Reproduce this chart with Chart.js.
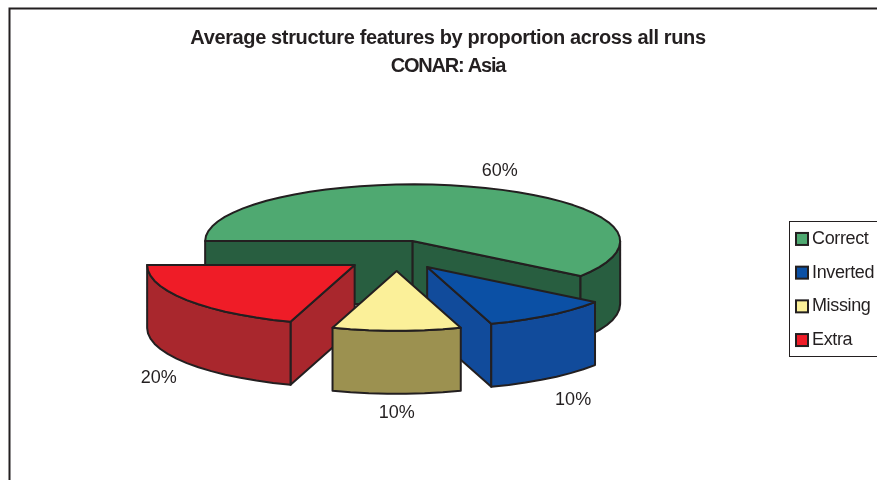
<!DOCTYPE html>
<html>
<head>
<meta charset="utf-8">
<style>
body { margin: 0; background: #fff; }
canvas { display: block; }
</style>
<script src="https://cdn.jsdelivr.net/npm/chart.js@4/dist/chart.umd.min.js"></script>
</head>
<body>
<canvas id="myChart" width="877" height="480"></canvas>
<script>
const categories = ["Correct", "Inverted", "Missing", "Extra"];
const proportions = [60, 10, 10, 20];
const titleLines = ["Average structure features by proportion across all runs", "CONAR: Asia"];

const topColors = ["#4fa971", "#0b50a5", "#fbf099", "#ef1c27"];
const wallColors = ["#285e40", "#114b9b", "#9c9150", "#a9272d"];
const inkColor = "#231f20";

// the look of the 3d pie, library only knows a flat one
const flattenBack = 0.299;
const flattenFront = 0.315;
const stretch = 1.095;
const depth = 63;
const pieShift = [14, -48.5];
const explode = [[0, 0], [14.5, 26], [-16, 30], [-58, 24]];
const labelNudge = [[23, -16], [24, 22], [0, 19], [-28, 15]];
const facetStep = Math.PI / 36;

// point on the rim, the front half is a bit deeper than the back
function rim(a, i, ang, down) {
    const flatten = Math.sin(ang) > 0 ? flattenFront : flattenBack;
    return [
        a.x + pieShift[0] + explode[i][0] + a.outerRadius * stretch * Math.cos(ang),
        a.y + pieShift[1] + explode[i][1] + a.outerRadius * flatten * Math.sin(ang) + down
    ];
}

function rimPath(ctx, a, i, from, to, down) {
    const n = Math.max(1, Math.round(Math.abs(to - from) / facetStep));
    for (let k = 0; k <= n; k++) {
        const p = rim(a, i, from + (to - from) * k / n, down);
        ctx.lineTo(p[0], p[1]);
    }
}

function drawFace(ctx, path, fill) {
    ctx.beginPath();
    path();
    ctx.closePath();
    ctx.fillStyle = fill;
    ctx.fill();
    ctx.stroke();
}

const pie3d = {
    id: "pie3d",
    beforeDraw(chart) {
        chart.ctx.letterSpacing = "-0.37px";
    },
    beforeDatasetsDraw(chart) {
        const ctx = chart.ctx;
        const arcs = chart.getDatasetMeta(0).data;
        // back slices first
        let order = arcs.map((a, i) => i);
        const mid = (a) => (a.startAngle + a.endAngle) / 2;
        order.sort((p, q) => Math.sin(mid(arcs[p])) - Math.sin(mid(arcs[q])));

        ctx.save();
        ctx.strokeStyle = inkColor;
        ctx.lineWidth = 2;
        ctx.lineJoin = "round";
        order.forEach((i) => {
            const a = arcs[i];
            const cx = a.x + pieShift[0] + explode[i][0];
            const cy = a.y + pieShift[1] + explode[i][1];

            const cutFace = (ang) => {
                const e = rim(a, i, ang, 0);
                drawFace(ctx, () => {
                    ctx.moveTo(cx, cy);
                    ctx.lineTo(e[0], e[1]);
                    ctx.lineTo(e[0], e[1] + depth);
                    ctx.lineTo(cx, cy + depth);
                }, wallColors[i]);
            };
            // only the cut faces turned to us
            if (Math.cos(a.startAngle) < 0) cutFace(a.startAngle);
            if (Math.cos(a.endAngle) > 0) cutFace(a.endAngle);

            // outer wall, only the part that faces us (0..PI on canvas)
            for (let turn = 0; turn < 2; turn++) {
                const from = Math.max(a.startAngle, turn * Math.PI * 2);
                const to = Math.min(a.endAngle, turn * Math.PI * 2 + Math.PI);
                if (to > from) {
                    drawFace(ctx, () => {
                        rimPath(ctx, a, i, from, to, 0);
                        rimPath(ctx, a, i, to, from, depth);
                    }, wallColors[i]);
                }
            }

            // top
            drawFace(ctx, () => {
                ctx.moveTo(cx, cy);
                rimPath(ctx, a, i, a.startAngle, a.endAngle, 0);
            }, topColors[i]);
        });

        // percent labels
        const total = proportions.reduce((s, v) => s + v, 0);
        ctx.fillStyle = inkColor;
        ctx.font = "18px 'Liberation Sans'";
        ctx.letterSpacing = "0px";
        ctx.textAlign = "center";
        ctx.textBaseline = "middle";
        arcs.forEach((a, i) => {
            const ang = mid(a);
            const p = rim(a, i, ang, Math.sin(ang) > 0 ? depth : 0);
            ctx.fillText(Math.round(proportions[i] / total * 100) + "%", p[0] + labelNudge[i][0], p[1] + labelNudge[i][1]);
        });
        ctx.restore();
        return false;
    },
    afterDraw(chart) {
        const ctx = chart.ctx;
        const boxes = chart.legend.legendHitBoxes;
        const tb = chart.titleBlock;
        ctx.save();
        // second title line is set much tighter than the first one
        ctx.fillStyle = inkColor;
        ctx.font = "bold 20px 'Liberation Sans'";
        ctx.letterSpacing = "-1.2px";
        ctx.textAlign = "center";
        ctx.textBaseline = "middle";
        ctx.fillText(titleLines[1], (tb.left + tb.right) / 2, tb.top + 24 + 28 + 14);
        ctx.letterSpacing = "0px";

        ctx.strokeStyle = inkColor;
        // outer frame runs off the page on the right and bottom
        ctx.lineWidth = 2;
        ctx.strokeRect(9.5, 8.5, 900, 500);
        // legend frame, around the items only
        const last = boxes[boxes.length - 1];
        const frameTop = Math.round(boxes[0].top - 9) + 0.5;
        const frameBottom = Math.round(last.top + last.height + 7) + 0.5;
        ctx.lineWidth = 1;
        ctx.strokeRect(Math.round(boxes[0].left - 5) + 0.5, frameTop, 200, frameBottom - frameTop);
        // swatches a bit wider than the text gap allows
        ctx.lineWidth = 2;
        boxes.forEach((box, i) => {
            const h = 12;
            const y = box.top + (box.height - h) / 2;
            ctx.fillStyle = topColors[i];
            ctx.fillRect(box.left + 2, y, h, h);
            ctx.strokeRect(box.left + 2, y, h, h);
        });
        ctx.restore();
    }
};

new Chart(document.getElementById("myChart"), {
    type: "pie",
    plugins: [pie3d],
    data: {
        labels: categories,
        datasets: [{
            data: proportions,
            backgroundColor: topColors,
            borderColor: inkColor,
            borderWidth: 2
        }]
    },
    options: {
        responsive: false,
        animation: false,
        rotation: 270,
        events: [],
        layout: { padding: { left: 19, top: 0, right: 0, bottom: 0 } },
        plugins: {
            tooltip: { enabled: false },
            title: {
                display: true,
                text: titleLines[0],
                color: inkColor,
                font: { family: "'Liberation Sans'", size: 20, weight: "bold", lineHeight: 1.4 },
                padding: { top: 24, bottom: 47 }
            },
            legend: {
                position: "right",
                fullSize: false,
                maxWidth: 98.7,
                labels: {
                    color: inkColor,
                    font: { family: "'Liberation Sans'", size: 18 },
                    boxWidth: 9,
                    boxHeight: 13,
                    padding: 15.7,
                    // real swatches are drawn in afterDraw
                    generateLabels(chart) {
                        return Chart.overrides.pie.plugins.legend.labels.generateLabels(chart).map((item) => {
                            item.fillStyle = "transparent";
                            item.lineWidth = 0;
                            return item;
                        });
                    }
                }
            }
        }
    }
});
</script>
</body>
</html>
